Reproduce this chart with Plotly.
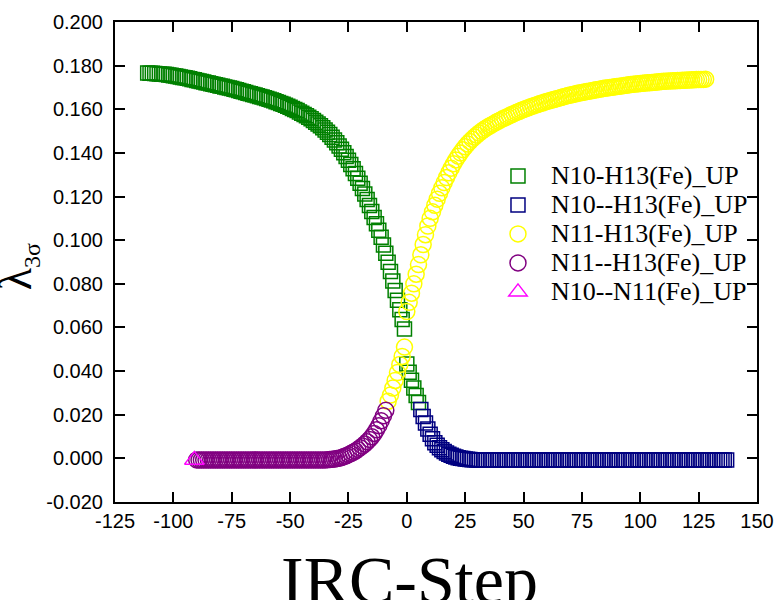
import plotly.graph_objects as go

# ---------------- data ----------------
green_x = [-111, -110, -109, -108, -107, -106, -105, -104, -103, -102,
           -101, -100, -99, -98, -97, -96, -95, -94, -93, -92,
           -91, -90, -89, -88, -87, -86, -85, -84, -83, -82,
           -81, -80, -79, -78, -77, -76, -75, -74, -73, -72,
           -71, -70, -69, -68, -67, -66, -65, -64, -63, -62,
           -61, -60, -59, -58, -57, -56, -55, -54, -53, -52,
           -51, -50, -49, -48, -47, -46, -45, -44, -43, -42,
           -41, -40, -39, -38, -37, -36, -35, -34, -33, -32,
           -31, -30, -29, -28, -27, -26, -25, -24, -23, -22,
           -21, -20, -19, -18, -17, -16, -15, -14, -13, -12,
           -11, -10, -9, -8, -7, -6, -5, -4, -3, -2,
           -1, 0, 1, 2, 3, 4, 5]
green_y = [0.1766, 0.1765, 0.1765, 0.1764, 0.1763, 0.1762, 0.1761, 0.1760, 0.1759, 0.1757,
           0.1756, 0.1754, 0.1752, 0.1750, 0.1748, 0.1746, 0.1744, 0.1742, 0.1740, 0.1737,
           0.1735, 0.1732, 0.1730, 0.1727, 0.1725, 0.1722, 0.1720, 0.1717, 0.1715, 0.1712,
           0.1710, 0.1707, 0.1705, 0.1702, 0.1700, 0.1697, 0.1695, 0.1692, 0.1689, 0.1686,
           0.1683, 0.1680, 0.1677, 0.1674, 0.1671, 0.1668, 0.1665, 0.1662, 0.1659, 0.1656,
           0.1653, 0.1649, 0.1646, 0.1642, 0.1639, 0.1635, 0.1631, 0.1627, 0.1623, 0.1618,
           0.1614, 0.1609, 0.1604, 0.1599, 0.1594, 0.1588, 0.1582, 0.1576, 0.1570, 0.1563,
           0.1556, 0.1549, 0.1541, 0.1533, 0.1524, 0.1515, 0.1505, 0.1495, 0.1484, 0.1472,
           0.1459, 0.1446, 0.1432, 0.1417, 0.1401, 0.1384, 0.1366, 0.1347, 0.1327, 0.1306,
           0.1284, 0.1261, 0.1237, 0.1212, 0.1186, 0.1159, 0.1132, 0.1104, 0.1075, 0.1045,
           0.1013, 0.0978, 0.0940, 0.0899, 0.0856, 0.0813, 0.0769, 0.0725, 0.0681, 0.0637,
           0.0593, 0.0433, 0.0395, 0.0358, 0.0322, 0.0288, 0.0256]

blue_x = [6, 7, 8, 9, 10, 11, 12, 13, 14, 15,
          16, 17, 18, 19, 20, 21, 22, 23, 24, 25,
          26, 27, 28, 29, 30, 31, 32, 33, 34, 35,
          36, 37, 38, 39, 40, 41, 42, 43, 44, 45,
          46, 47, 48, 49, 50, 51, 52, 53, 54, 55,
          56, 57, 58, 59, 60, 61, 62, 63, 64, 65,
          66, 67, 68, 69, 70, 71, 72, 73, 74, 75,
          76, 77, 78, 79, 80, 81, 82, 83, 84, 85,
          86, 87, 88, 89, 90, 91, 92, 93, 94, 95,
          96, 97, 98, 99, 100, 101, 102, 103, 104, 105,
          106, 107, 108, 109, 110, 111, 112, 113, 114, 115,
          116, 117, 118, 119, 120, 121, 122, 123, 124, 125,
          126, 127, 128, 129, 130, 131, 132, 133, 134, 135,
          136, 137]
blue_y = [0.0224, 0.0192, 0.0162, 0.0135, 0.0111, 0.0090, 0.0072, 0.0060, 0.0049, 0.0040,
          0.0032, 0.0025, 0.0019, 0.0014, 0.0010, 0.0006, 0.0003, 0.0001, -0.0001, -0.0003,
          -0.0004, -0.0005, -0.0006, -0.0006, -0.0007, -0.0007, -0.0007, -0.0007, -0.0007, -0.0007,
          -0.0007, -0.0007, -0.0007, -0.0007, -0.0007, -0.0007, -0.0007, -0.0007, -0.0007, -0.0007,
          -0.0007, -0.0007, -0.0007, -0.0007, -0.0007, -0.0007, -0.0007, -0.0007, -0.0007, -0.0007,
          -0.0007, -0.0007, -0.0007, -0.0007, -0.0007, -0.0007, -0.0007, -0.0007, -0.0007, -0.0007,
          -0.0007, -0.0007, -0.0007, -0.0007, -0.0007, -0.0007, -0.0007, -0.0007, -0.0007, -0.0007,
          -0.0007, -0.0007, -0.0007, -0.0007, -0.0007, -0.0007, -0.0007, -0.0007, -0.0007, -0.0007,
          -0.0007, -0.0007, -0.0007, -0.0007, -0.0007, -0.0007, -0.0007, -0.0007, -0.0007, -0.0007,
          -0.0007, -0.0007, -0.0007, -0.0007, -0.0007, -0.0007, -0.0007, -0.0007, -0.0007, -0.0007,
          -0.0007, -0.0007, -0.0007, -0.0007, -0.0007, -0.0007, -0.0007, -0.0007, -0.0007, -0.0007,
          -0.0007, -0.0007, -0.0007, -0.0007, -0.0007, -0.0007, -0.0007, -0.0007, -0.0007, -0.0007,
          -0.0007, -0.0007, -0.0007, -0.0007, -0.0007, -0.0007, -0.0007, -0.0007, -0.0007, -0.0007,
          -0.0007, -0.0007]

yellow_x = [-8, -7, -6, -5, -4, -3, -2, -1, 0, 1,
            2, 3, 4, 5, 6, 7, 8, 9, 10, 11,
            12, 13, 14, 15, 16, 17, 18, 19, 20, 21,
            22, 23, 24, 25, 26, 27, 28, 29, 30, 31,
            32, 33, 34, 35, 36, 37, 38, 39, 40, 41,
            42, 43, 44, 45, 46, 47, 48, 49, 50, 51,
            52, 53, 54, 55, 56, 57, 58, 59, 60, 61,
            62, 63, 64, 65, 66, 67, 68, 69, 70, 71,
            72, 73, 74, 75, 76, 77, 78, 79, 80, 81,
            82, 83, 84, 85, 86, 87, 88, 89, 90, 91,
            92, 93, 94, 95, 96, 97, 98, 99, 100, 101,
            102, 103, 104, 105, 106, 107, 108, 109, 110, 111,
            112, 113, 114, 115, 116, 117, 118, 119, 120, 121,
            122, 123, 124, 125, 126, 127, 128]
yellow_y = [0.0262, 0.0290, 0.0322, 0.0357, 0.0393, 0.0430, 0.0467, 0.0510, 0.0673, 0.0715,
            0.0757, 0.0800, 0.0844, 0.0888, 0.0933, 0.0980, 0.1025, 0.1065, 0.1100, 0.1130,
            0.1160, 0.1188, 0.1215, 0.1240, 0.1264, 0.1287, 0.1309, 0.1330, 0.1350, 0.1368,
            0.1385, 0.1400, 0.1415, 0.1428, 0.1441, 0.1452, 0.1463, 0.1473, 0.1482, 0.1491,
            0.1499, 0.1507, 0.1514, 0.1521, 0.1527, 0.1533, 0.1539, 0.1545, 0.1550, 0.1556,
            0.1561, 0.1566, 0.1571, 0.1576, 0.1581, 0.1586, 0.1590, 0.1595, 0.1599, 0.1603,
            0.1607, 0.1611, 0.1615, 0.1619, 0.1622, 0.1626, 0.1629, 0.1633, 0.1636, 0.1639,
            0.1642, 0.1645, 0.1648, 0.1651, 0.1654, 0.1657, 0.1660, 0.1663, 0.1665, 0.1668,
            0.1670, 0.1673, 0.1675, 0.1677, 0.1679, 0.1681, 0.1683, 0.1685, 0.1687, 0.1689,
            0.1691, 0.1693, 0.1695, 0.1697, 0.1698, 0.1700, 0.1701, 0.1703, 0.1704, 0.1706,
            0.1707, 0.1709, 0.1710, 0.1712, 0.1713, 0.1715, 0.1716, 0.1717, 0.1718, 0.1719,
            0.1720, 0.1721, 0.1722, 0.1723, 0.1724, 0.1725, 0.1726, 0.1727, 0.1728, 0.1729,
            0.1730, 0.1730, 0.1731, 0.1731, 0.1732, 0.1732, 0.1733, 0.1733, 0.1734, 0.1734,
            0.1735, 0.1735, 0.1736, 0.1736, 0.1737, 0.1737, 0.1738]

purple_x = [-90, -89, -88, -87, -86, -85, -84, -83, -82, -81,
            -80, -79, -78, -77, -76, -75, -74, -73, -72, -71,
            -70, -69, -68, -67, -66, -65, -64, -63, -62, -61,
            -60, -59, -58, -57, -56, -55, -54, -53, -52, -51,
            -50, -49, -48, -47, -46, -45, -44, -43, -42, -41,
            -40, -39, -38, -37, -36, -35, -34, -33, -32, -31,
            -30, -29, -28, -27, -26, -25, -24, -23, -22, -21,
            -20, -19, -18, -17, -16, -15, -14, -13, -12, -11,
            -10, -9]
purple_y = [-0.0007, -0.0007, -0.0007, -0.0007, -0.0007, -0.0007, -0.0007, -0.0007, -0.0007, -0.0007,
            -0.0007, -0.0007, -0.0007, -0.0007, -0.0007, -0.0007, -0.0007, -0.0007, -0.0007, -0.0007,
            -0.0007, -0.0007, -0.0007, -0.0007, -0.0007, -0.0007, -0.0007, -0.0007, -0.0007, -0.0007,
            -0.0007, -0.0007, -0.0007, -0.0007, -0.0007, -0.0007, -0.0007, -0.0007, -0.0007, -0.0007,
            -0.0007, -0.0007, -0.0007, -0.0007, -0.0007, -0.0007, -0.0007, -0.0007, -0.0007, -0.0007,
            -0.0007, -0.0007, -0.0007, -0.0007, -0.0007, -0.0007, -0.0006, -0.0005, -0.0004, -0.0003,
            -0.0001, 0.0001, 0.0004, 0.0008, 0.0012, 0.0017, 0.0022, 0.0028, 0.0034, 0.0041,
            0.0049, 0.0057, 0.0066, 0.0076, 0.0087, 0.0099, 0.0114, 0.0131, 0.0150, 0.0172,
            0.0195, 0.0220]

magenta_x = [-91]
magenta_y = [-0.0007]

series_names = ["N10-H13(Fe)_UP", "N10--H13(Fe)_UP", "N11-H13(Fe)_UP", "N11--H13(Fe)_UP", "N10--N11(Fe)_UP"]

x_tickvals = [-125, -100, -75, -50, -25, 0, 25, 50, 75, 100, 125, 150]
x_ticktext = ["-125", "-100", "-75", "-50", "-25", "0", "25", "50", "75", "100", "125", "150"]
y_tickvals = [-0.02, 0.0, 0.02, 0.04, 0.06, 0.08, 0.10, 0.12, 0.14, 0.16, 0.18, 0.20]
y_ticktext = ["-0.020", "0.000", "0.020", "0.040", "0.060", "0.080", "0.100", "0.120", "0.140",
              "0.160", "0.180", "0.200"]

assert len(green_x) == len(green_y)
assert len(blue_x) == len(blue_y)
assert len(yellow_x) == len(yellow_y)
assert len(purple_x) == len(purple_y)

# ---------------- figure ----------------
SERIF = "Liberation Serif, Times New Roman, serif"
SANS = "Liberation Sans, Arial, sans-serif"

fig = go.Figure()

def add(xs, ys, name, symbol, color, size):
    fig.add_trace(go.Scatter(
        x=xs, y=ys, mode="markers",
        name='<span style="font-size:26px">' + name + '</span>',
        marker=dict(symbol=symbol, size=size, color=color,
                    line=dict(color=color, width=1.5)),
    ))

add(green_x, green_y, series_names[0], "square-open", "#008000", 14)
add(blue_x, blue_y, series_names[1], "square-open", "#000080", 14)
add(yellow_x, yellow_y, series_names[2], "circle-open", "#FFFF00", 16)
add(purple_x, purple_y, series_names[3], "circle-open", "#800080", 16)
add(magenta_x, magenta_y, series_names[4], "triangle-up-open", "#FF00FF", 17)

axis_common = dict(
    showgrid=False, zeroline=False, showline=True, linecolor="black", linewidth=2,
    mirror="ticks", ticks="inside", ticklen=10, tickwidth=2, tickcolor="black",
    tickfont=dict(family=SANS, size=20, color="black"), automargin=False,
)

fig.update_xaxes(range=[-125, 150], tickmode="array", tickvals=x_tickvals, ticktext=x_ticktext,
                 **axis_common)
fig.update_yaxes(range=[-0.02, 0.2], tickmode="array", tickvals=y_tickvals, ticktext=y_ticktext,
                 ticklabelstandoff=6, **axis_common)

fig.update_layout(
    width=775, height=600, autosize=False,
    margin=dict(l=115, r=18, t=22, b=98, autoexpand=False),
    plot_bgcolor="white", paper_bgcolor="white",
    showlegend=True,
    legend=dict(x=0.5763, y=0.72, xanchor="left", yanchor="top", itemwidth=56,
                font=dict(family=SERIF, size=20, color="black"),
                bgcolor="rgba(0,0,0,0)", borderwidth=0),
    annotations=[
        dict(text="IRC-Step", xref="paper", yref="paper", x=0.459, y=-0.08,
             xanchor="center", yanchor="top", showarrow=False,
             font=dict(family=SERIF, size=68, color="black")),
        dict(text='λ<sub><span style="font-size:24px">3σ</span></sub>', xref="paper", yref="paper",
             x=-0.152, y=0.49, xanchor="center", yanchor="middle", textangle=-90, showarrow=False,
             font=dict(family=SERIF, size=46, color="black")),
    ],
)

fig.write_html("out.html", config={"displayModeBar": False, "responsive": False},
               post_script="document.body.style.margin='0';document.body.style.overflow='hidden';")
